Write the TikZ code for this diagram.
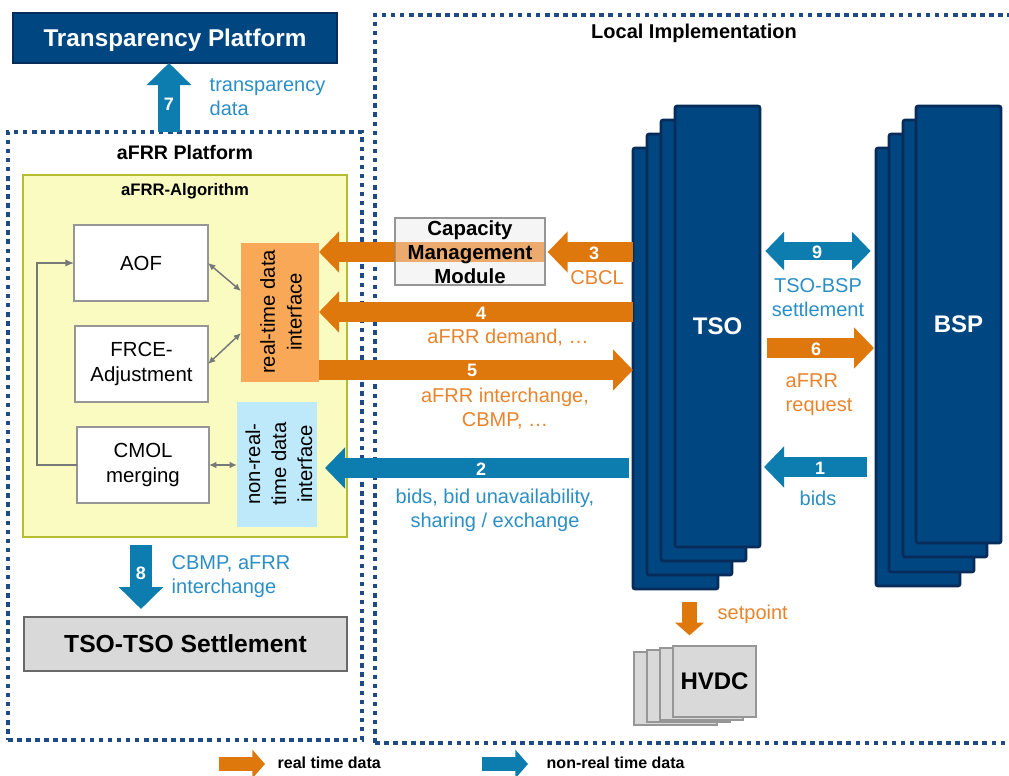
\documentclass[tikz,border=0pt]{standalone}
\usepackage{fontspec}
\setmainfont{Liberation Sans}
\usetikzlibrary{arrows.meta,fit}
\definecolor{dblue}{RGB}{0,70,128}
\definecolor{dblueB}{RGB}{8,44,90}
\definecolor{dotblue}{RGB}{30,74,133}
\definecolor{oarrow}{RGB}{223,120,12}
\definecolor{barrow}{RGB}{12,125,174}
\definecolor{btext}{RGB}{43,143,198}
\definecolor{otext}{RGB}{232,132,44}
\definecolor{ylw}{RGB}{249,251,192}
\definecolor{ylwB}{RGB}{180,189,48}
\definecolor{rtiF}{RGB}{249,168,88}
\definecolor{nrtiF}{RGB}{190,233,251}
\definecolor{bandF}{RGB}{235,170,110}
\definecolor{cmmF}{RGB}{245,245,245}
\definecolor{lgray}{RGB}{217,217,217}
\definecolor{mgray}{RGB}{150,150,150}
\definecolor{dgray}{RGB}{105,105,105}
\definecolor{lineg}{RGB}{120,120,120}
\newcommand{\myfs}[2]{\fontsize{#1}{#2}\selectfont}
\tikzset{
  box/.style={inner sep=0pt, outer sep=0pt},
  dotbox/.style={box, draw=dotblue, line width=3.4pt, dash pattern=on 3.4pt off 3.4pt},
  wbox/.style={box, fill=white, draw=mgray, line width=1.5pt},
  tsobox/.style={box, fill=dblue, draw=dblueB, line width=2pt, rounded corners=1.5pt},
  hvdcbox/.style={box, fill=lgray, draw=mgray, line width=1pt},
  fat/.style={line width=15pt, -{Triangle[length=15pt,width=30pt]}},
  fatdbl/.style={line width=13.5pt, {Triangle[length=14pt,width=28pt]}-{Triangle[length=14pt,width=28pt]}},
  fatv/.style={line width=16.5pt, -{Triangle[length=16.5pt,width=32.5pt]}},
  slim/.style={line width=11pt, -{Triangle[length=9.5pt,width=21pt]}},
  orng/.style={draw=oarrow},
  blu/.style={draw=barrow},
  num/.style={text=white, font=\bfseries\myfs{13.5}{15}},
  blab/.style={text=btext, font=\myfs{15}{18}, align=center},
  olab/.style={text=otext, font=\myfs{15}{18}, align=center},
  lbl/.style={font=\myfs{15.3}{18.5}, align=center},
  big/.style={font=\bfseries\myfs{18}{21}},
  thin/.style={draw=lineg, line width=1.1pt},
  tip1/.style={-{Latex[length=6.5pt,width=5.5pt]}},
  tip2/.style={{Latex[length=5.5pt,width=5pt]}-{Latex[length=5.5pt,width=5pt]}}
}
\begin{document}
\begin{tikzpicture}[x=0.75pt,y=-0.75pt]
\useasboundingbox (0,0) rectangle (1009,775);
\fill[white] (0,0) rectangle (1009,775);

% outer dotted areas
\node[dotbox, fit={(8,132) (362,740)}] (afrrplat) {};
\node[dotbox, fit={(375,15) (1014,743)}] (local) {};
\node[font=\bfseries\myfs{14.7}{17}] at (185,152) {aFRR Platform};
\node[font=\bfseries\myfs{15}{17}] at (694,33) {Local Implementation};

% transparency platform
\node[box, fill=dblue, draw=dblueB, line width=1.5pt, fit={(13,13) (337,63)}] (tp) {};
\node[text=white, font=\bfseries\myfs{18.2}{21}] at (175,40) {Transparency Platform};

% aFRR algorithm
\node[box, fill=ylw, draw=ylwB, line width=1.5pt, fit={(23,175) (347,537)}] (algo) {};
\node[font=\bfseries\myfs{12.5}{15}] at (185,191) {aFRR-Algorithm};
\node[wbox, fit={(74,225) (208,301)}] (aof) {};
\node[lbl] at (aof) {AOF};
\node[wbox, fit={(75,326) (208,402)}] (frce) {};
\node[lbl] at (frce) {FRCE-\\Adjustment};
\node[wbox, fit={(77,427) (209,503)}] (cmol) {};
\node[lbl] at (cmol) {CMOL\\merging};
\node[box, fill=rtiF, fit={(241,243) (319,382)}] (rti) {};
\node[lbl, rotate=90, font=\myfs{15.2}{20}] at (281,312) {real-time data\\interface};
\node[box, fill=nrtiF, fit={(237,402) (317,527)}] (nrti) {};
\node[lbl, rotate=90, font=\myfs{15.2}{19.5}] at (279,464) {non-real-\\time data\\interface};

\draw[thin, tip1] (cmol.west) -- (37,0 |- cmol.west) |- (aof.west);
\draw[thin, tip2] (aof.east) -- (rti.west |- 0,291);
\draw[thin, tip2] (frce.east) -- (rti.west |- 0,333);
\draw[thin, tip2] (cmol.east) -- (nrti.west |- cmol.east);

% TSO-TSO settlement
\node[box, fill=lgray, draw=dgray, line width=1.5pt, fit={(24,617) (347,671)}] (tts) {};
\node[font=\bfseries\myfs{18.5}{21}] at (tts) {TSO-TSO Settlement};

% capacity management module
\node[box, fill=cmmF, draw=mgray, line width=1.2pt, fit={(395,218) (545,285)},
  path picture={\fill[bandF] ([yshift=7.5pt]path picture bounding box.west) rectangle ([yshift=-7.5pt]path picture bounding box.east);}] (cmm) {};
\node[font=\bfseries\myfs{15.3}{18}, align=center] at (470,252) {Capacity\\Management\\Module};

% TSO stack
\node[tsobox, fit={(633,148) (718,589)}] (tso4) {};
\node[tsobox, fit={(647,134) (732,575)}] (tso3) {};
\node[tsobox, fit={(661,120) (746,561)}] (tso2) {};
\node[tsobox, fit={(675,106) (760,547)}] (tso) {};
\node[big, text=white] at (tso) {TSO};

% BSP stack
\node[tsobox, fit={(876,148) (960,586)}] (bsp4) {};
\node[tsobox, fit={(889,134) (974,572)}] (bsp3) {};
\node[tsobox, fit={(903,120) (987,557)}] (bsp2) {};
\node[tsobox, fit={(916,106) (1001,543)}] (bsp) {};
\node[big, text=white] at (bsp) {BSP};

% HVDC stack
\node[hvdcbox, fit={(634,652) (717,725)}] (hvdc4) {};
\node[hvdcbox, fit={(647,650) (730,722)}] (hvdc3) {};
\node[hvdcbox, fit={(660,648) (743,720)}] (hvdc2) {};
\node[hvdcbox, fit={(673,646) (756,717)}] (hvdc) {};
\node[big] at (hvdc) {HVDC};

% arrows
\draw[fatv, blu] (169,0 |- afrrplat.north) -- (169,0 |- tp.south);
\node[num] at (169,104) {7};
\node[blab, align=left, anchor=west] at (205,97.5) {transparency\\data};

\draw[fatv, blu, shorten <=6pt, shorten >=6pt] (141,0 |- algo.south) -- (141,0 |- tts.north);
\node[num] at (141,573) {8};
\node[blab, align=left, anchor=west] at (167,577) {CBMP, aFRR\\interchange};

\draw[fat, orng, shorten >=2pt] (tso4.west |- 0,252) -- (cmm.east |- 0,252);
\node[num] at (594,253) {3};
\node[olab] at (597,278) {CBCL};

\draw[fat, orng] (cmm.west |- 0,252) -- (rti.east |- 0,252);

\draw[fat, orng] (tso4.west |- 0,312) -- (rti.east |- 0,312);
\node[num] at (481,313) {4};
\node[olab] at (508,338) {aFRR demand, …};

\draw[fat, orng] (rti.east |- 0,370) -- (tso4.west |- 0,370);
\node[num] at (472,370) {5};
\node[olab] at (505,409) {aFRR interchange,\\CBMP, …};

\draw[fat, blu, shorten <=3pt, shorten >=6pt] (tso4.west |- 0,468) -- (nrti.east |- 0,468);
\node[num] at (481,469) {2};
\node[blab] at (495,510) {bids, bid unavailability,\\sharing / exchange};

\draw[fatdbl, blu, shorten <=4pt, shorten >=4pt] (tso.east |- 0,251) -- (bsp4.west |- 0,251);
\node[num] at (817,252) {9};
\node[blab] at (818,298) {TSO-BSP\\settlement};

\draw[fat, orng, shorten <=5pt, shorten >=1.5pt] (tso.east |- 0,348) -- (bsp4.west |- 0,348);
\node[num] at (816,349) {6};
\node[olab, align=left, anchor=west] at (781,395) {aFRR\\request};

\draw[fat, blu, shorten <=7pt, shorten >=3pt] (bsp4.west |- 0,467) -- (tso.east |- 0,467);
\node[num] at (820,468) {1};
\node[blab] at (818,498) {bids};

\draw[slim, orng, shorten <=10pt, shorten >=12.5pt] (689.5,0 |- tso4.south) -- (689.5,0 |- hvdc4.north);
\node[olab, anchor=west] at (713,614) {setpoint};

% legend
\coordinate (lo1) at (219,764);
\coordinate (lo2) at (265,764);
\coordinate (lb1) at (482,764);
\coordinate (lb2) at (528,764);
\draw[slim, orng] (lo1) -- (lo2);
\draw[slim, blu] (lb1) -- (lb2);
\node[font=\bfseries\myfs{12}{14}, anchor=west] at (273,763) {real time data};
\node[font=\bfseries\myfs{12}{14}, anchor=west] at (542,763) {non-real time data};
\end{tikzpicture}
\end{document}
